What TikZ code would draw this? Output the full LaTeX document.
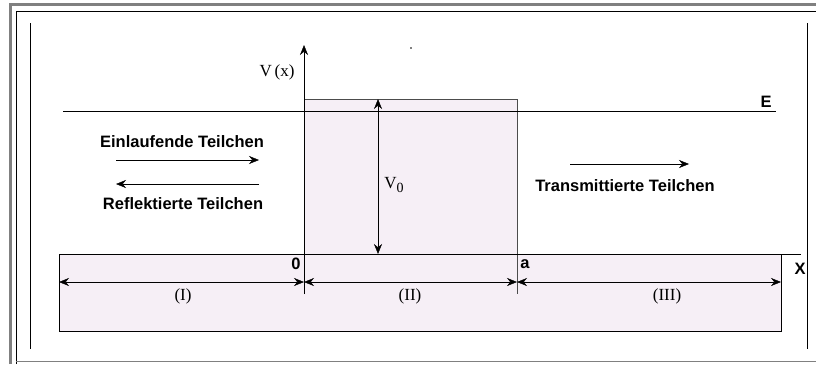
\documentclass[tikz,border=0pt]{standalone}
\usepackage{fontspec}
\setmainfont{Liberation Serif}
\setsansfont{Liberation Sans}
\usetikzlibrary{arrows.meta,positioning}
\definecolor{wallfill}{RGB}{246,239,246}
\definecolor{framegray}{RGB}{128,128,128}

\begin{document}
\begin{tikzpicture}[x=1pt,y=-1pt,
    lbl/.style={font=\sffamily\bfseries\fontsize{16.5}{16.5}\selectfont},
    num/.style={font=\fontsize{17}{17}\selectfont},
    arr/.style={-{Stealth[length=10pt,width=8pt]}},
    dim/.style={{Stealth[length=10pt,width=8pt]}-{Stealth[length=10pt,width=8pt]}}]

    \useasboundingbox (0,0) rectangle (816,364);

    % frame
    \draw[framegray,line width=3pt] (10,364) -- (10,4.5) -- (816,4.5);
    \draw (16,364) -- (16,11) -- (816,11);
    \draw[framegray] (16,361) -- (816,361);
    \draw (30,23) -- (30,349);
    \draw (807,23) -- (807,349);

    % regions
    \fill[wallfill] (304,99) rectangle (517,254);
    \fill[wallfill] (59,254) rectangle (781,331);
    \draw[black!70] (304,99) -- (517,99) -- (517,294);
    \draw (59,254) -- (59,331) -- (781,331) -- (781,254);

    \coordinate (xleft) at (59,254);
    \coordinate (xright) at (801,254);
    \coordinate (ybot) at (304,294);
    \coordinate (ytop) at (304,45);
    \coordinate (Eleft) at (63,111);
    \coordinate (Eright) at (776,111);
    \coordinate (L) at (59,282);
    \coordinate (O) at (304,282);
    \coordinate (A) at (517,282);
    \coordinate (R) at (781,282);
    \coordinate (Vtop) at (378,99);
    \coordinate (Vbot) at (378,254);
    \coordinate (in1) at (116,160);
    \coordinate (in2) at (259,160);
    \coordinate (re1) at (259,184);
    \coordinate (re2) at (116,184);
    \coordinate (tr1) at (570,164);
    \coordinate (tr2) at (689,164);

    \node[num] (Vx) at (277,72) {V\,(x)};
    \node[lbl] (E) at (766,102) {E};
    \node[lbl] (X) at (800,269) {X};
    \node[lbl] (zero) at (296,264) {0};
    \node[lbl] (a) at (525,264) {a};
    \node[num] (V0) at (394,185) {V\raisebox{-0.45ex}{\fontsize{14}{14}\selectfont 0}};
    \node[num] (r1) at (183,296) {(I)};
    \node[num] (r2) at (410,296) {(II)};
    \node[num] (r3) at (667,296) {(III)};
    \node[lbl] (ein) at (182,142) {Einlaufende Teilchen};
    \node[lbl] (ref) at (183,204) {Reflektierte Teilchen};
    \node[lbl] (tra) at (625,186) {Transmittierte Teilchen};
    \fill (411,48) circle (0.8pt);

    \draw (xleft) -- (xright);
    \draw[arr] (ybot) -- (ytop);
    \draw (Eleft) -- (Eright);
    \draw[dim] (L) -- (O);
    \draw[dim] (O) -- (A);
    \draw[dim] (A) -- (R);
    \draw[dim] (Vtop) -- (Vbot);
    \draw[arr] (in1) -- (in2);
    \draw[arr] (re1) -- (re2);
    \draw[arr] (tr1) -- (tr2);
\end{tikzpicture}
\end{document}
